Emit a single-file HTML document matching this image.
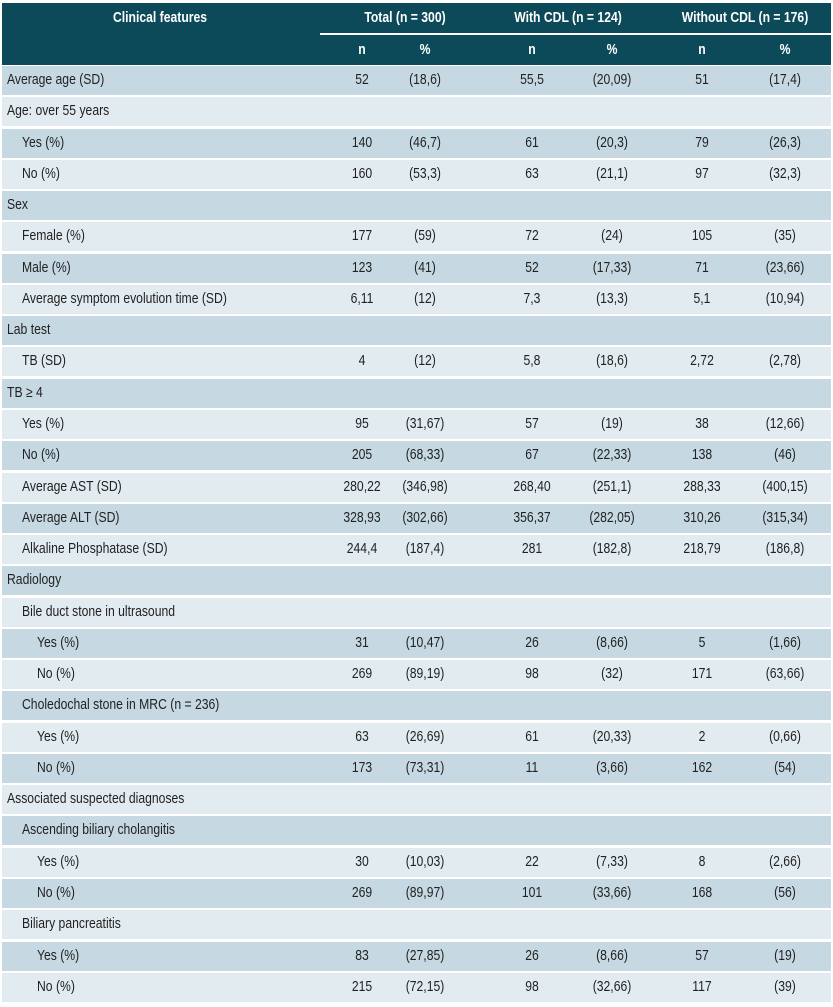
<!DOCTYPE html>
<html><head><meta charset="utf-8"><style>
body{margin:0;width:833px;height:1007px;background:#fff;position:relative;overflow:hidden;font-family:"Liberation Sans",sans-serif;font-size:14.5px;color:#222}
.hd{position:absolute;left:2px;top:3px;width:829px;height:62px;background:#0c4a5a}
.ht{position:absolute;color:#fff;font-weight:bold;transform:translateX(-50%) scaleX(.84);white-space:nowrap}
.row{position:absolute;left:2px;width:829px;height:29px}
.c{position:absolute;top:6px;transform:translateX(-50%) scaleX(.84);white-space:nowrap}
.l{position:absolute;top:6px;white-space:nowrap;transform:scaleX(.84);transform-origin:0 0}
</style></head><body>
<div class="hd"></div>
<div class="ht" style="left:160px;top:10px">Clinical features</div>
<div class="ht" style="left:405px;top:10px">Total (n = 300)</div>
<div class="ht" style="left:568px;top:10px">With CDL (n = 124)</div>
<div class="ht" style="left:745px;top:10px">Without CDL (n = 176)</div>
<div style="position:absolute;left:320px;top:33px;width:511px;height:2px;background:#fff"></div>
<div class="ht" style="left:362px;top:42px">n</div>
<div class="ht" style="left:425px;top:42px">%</div>
<div class="ht" style="left:532px;top:42px">n</div>
<div class="ht" style="left:612px;top:42px">%</div>
<div class="ht" style="left:702px;top:42px">n</div>
<div class="ht" style="left:785px;top:42px">%</div>
<div id="body"></div>
<script>
const rows=[
[0,"Average age (SD)","52","(18,6)","55,5","(20,09)","51","(17,4)"],
[0,"Age: over 55 years"],
[1,"Yes (%)","140","(46,7)","61","(20,3)","79","(26,3)"],
[1,"No (%)","160","(53,3)","63","(21,1)","97","(32,3)"],
[0,"Sex"],
[1,"Female (%)","177","(59)","72","(24)","105","(35)"],
[1,"Male (%)","123","(41)","52","(17,33)","71","(23,66)"],
[1,"Average symptom evolution time (SD)","6,11","(12)","7,3","(13,3)","5,1","(10,94)"],
[0,"Lab test"],
[1,"TB (SD)","4","(12)","5,8","(18,6)","2,72","(2,78)"],
[0,"TB ≥ 4"],
[1,"Yes (%)","95","(31,67)","57","(19)","38","(12,66)"],
[1,"No (%)","205","(68,33)","67","(22,33)","138","(46)"],
[1,"Average AST (SD)","280,22","(346,98)","268,40","(251,1)","288,33","(400,15)"],
[1,"Average ALT (SD)","328,93","(302,66)","356,37","(282,05)","310,26","(315,34)"],
[1,"Alkaline Phosphatase (SD)","244,4","(187,4)","281","(182,8)","218,79","(186,8)"],
[0,"Radiology"],
[1,"Bile duct stone in ultrasound"],
[2,"Yes (%)","31","(10,47)","26","(8,66)","5","(1,66)"],
[2,"No (%)","269","(89,19)","98","(32)","171","(63,66)"],
[1,"Choledochal stone in MRC (n = 236)"],
[2,"Yes (%)","63","(26,69)","61","(20,33)","2","(0,66)"],
[2,"No (%)","173","(73,31)","11","(3,66)","162","(54)"],
[0,"Associated suspected diagnoses"],
[1,"Ascending biliary cholangitis"],
[2,"Yes (%)","30","(10,03)","22","(7,33)","8","(2,66)"],
[2,"No (%)","269","(89,97)","101","(33,66)","168","(56)"],
[1,"Biliary pancreatitis"],
[2,"Yes (%)","83","(27,85)","26","(8,66)","57","(19)"],
[2,"No (%)","215","(72,15)","98","(32,66)","117","(39)"]
];
const cols=[362,425,532,612,702,785];
const body=document.getElementById('body');
rows.forEach((r,i)=>{
  const d=document.createElement('div');
  d.className='row';
  d.style.top=(66+i*31.27)+'px';
  d.style.background=i%2===0?'#c6d9e3':'#e2ecf0';
  
  
  const l=document.createElement('div');
  l.className='l';
  l.style.left=(5+r[0]*15)+'px';
  l.textContent=r[1];
  
  
  d.appendChild(l);
  for(let k=2;k<r.length;k++){
    const c=document.createElement('div');
    c.className='c';
    c.style.left=(cols[k-2]-2)+'px';
    c.textContent=r[k];
    
    
    d.appendChild(c);
  }
  body.appendChild(d);
});
</script>
</body></html>
